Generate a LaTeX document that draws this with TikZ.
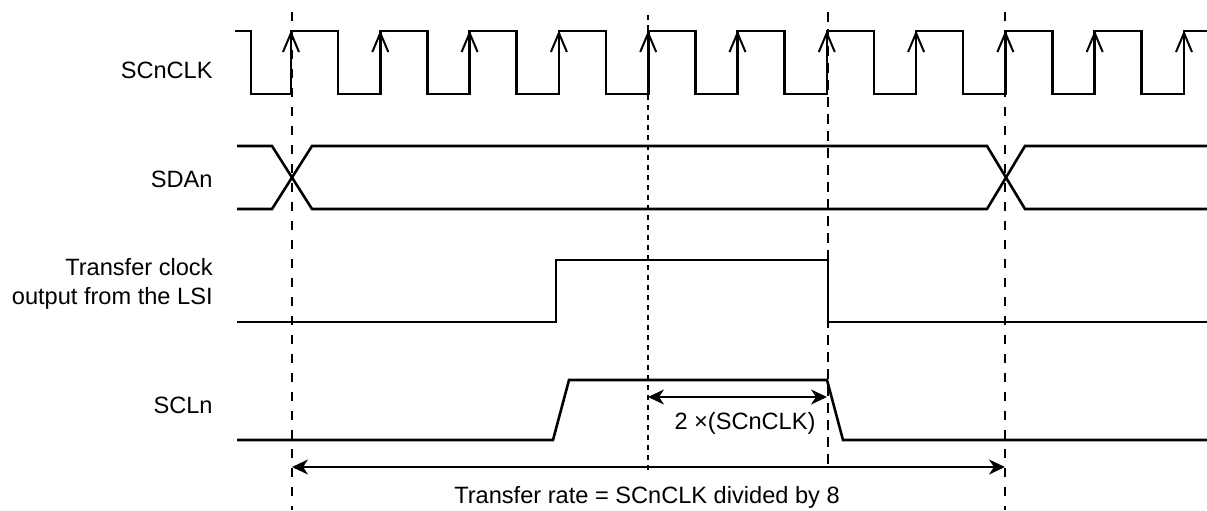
\documentclass[tikz,border=0pt]{standalone}
\usepackage{fontspec}
\setmainfont{Liberation Sans}
\usetikzlibrary{arrows.meta,positioning,calc}

\begin{document}
\begin{tikzpicture}[x=0.5pt,y=-0.5pt,
    wave/.style={line width=1.3pt, line join=miter},
    edgemark/.style={line width=1pt},
    marker/.style={line width=1pt, dash pattern=on 4.5pt off 5pt},
    finemarker/.style={line width=0.9pt, dash pattern=on 2.5pt off 2.5pt},
    dimline/.style={line width=1pt, {Stealth[length=8pt,width=7.5pt,inset=2.5pt]}-{Stealth[length=8pt,width=7.5pt,inset=2.5pt]}},
    siglabel/.style={anchor=base east, inner sep=0pt, align=right, font=\fontsize{11.8}{14.35}\selectfont},
    dimlabel/.style={anchor=base, inner sep=0pt, font=\fontsize{11.8}{14.35}\selectfont}
]
\useasboundingbox (0,0) rectangle (1207,510);

% Signal names
\node (clkname) [siglabel] at (213,78) {SCnCLK};
\node (sdaname) [siglabel] at (213,187) {SDAn};
\node (lsiname) [siglabel] at (213,304) {Transfer clock\\output from the LSI};
\node (sclname) [siglabel] at (213,413) {SCLn};

% SCnCLK
\draw[wave] (235,31) -- (251,31) -- (251,94)
    foreach \k in {0,...,9} { -- ({291+89.3*\k},94) -- ({291+89.3*\k},31)
                              -- ({338+89.3*\k},31) -- ({338+89.3*\k},94) }
    -- (1184,94) -- (1184,31) -- (1207,31);
\foreach \k in {0,...,10}
    \draw[edgemark] ({283+89.3*\k},52) -- ({291+89.3*\k},33) -- ({299+89.3*\k},52);

% SDAn
\draw[wave] (237,146) -- (272,146) -- (312,209) -- (987,209) -- (1025,146) -- (1207,146);
\draw[wave] (237,209) -- (272,209) -- (312,146) -- (987,146) -- (1025,209) -- (1207,209);

% Transfer clock output from the LSI
\draw[wave] (237,322) -- (556,322) -- (556,260) -- (828,260) -- (828,322) -- (1207,322);

% SCLn
\draw[wave] (237,440) -- (553,440) -- (569,380) -- (827,380) -- (843,440) -- (1207,440);

% Timing markers
\coordinate (m1top) at (292,12);   \coordinate (m1bot) at (292,510);
\coordinate (m2top) at (648,15);   \coordinate (m2bot) at (648,472);
\coordinate (m3top) at (828,12);   \coordinate (m3bot) at (828,467);
\coordinate (m4top) at (1005,12);  \coordinate (m4bot) at (1005,510);
\draw[marker] (m1top) -- (m1bot);
\draw[finemarker] (m2top) -- (m2bot);
\draw[marker, dash pattern=on 5pt off 3.5pt] (m3top) -- (m3bot);
\draw[marker] (m4top) -- (m4bot);

% 2 x SCnCLK
\coordinate (twoa) at (648,397);
\coordinate (twob) at (827,397);
\draw[dimline] (twoa) -- (twob);
\node (twotext) [dimlabel] at (745,429) {2 ×(SCnCLK)};

% Transfer rate
\coordinate (ratea) at (292,467);
\coordinate (rateb) at (1005,467);
\draw[dimline] (ratea) -- (rateb);
\node (ratetext) [dimlabel] at (647,503) {Transfer rate = SCnCLK divided by 8};

\end{tikzpicture}
\end{document}
